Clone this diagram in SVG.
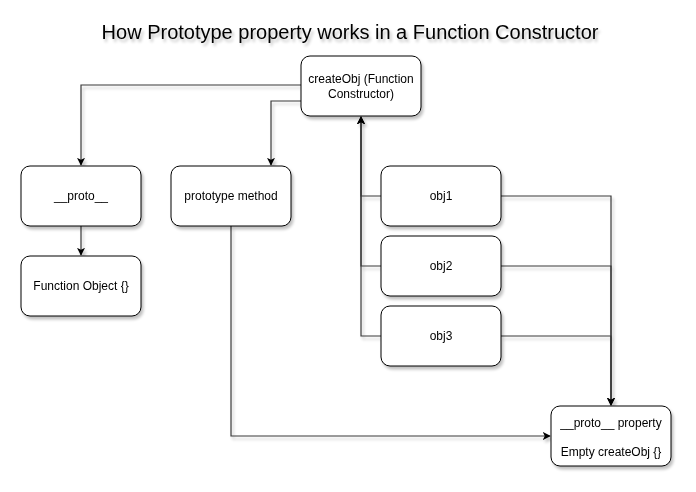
<svg xmlns="http://www.w3.org/2000/svg" width="696" height="492" viewBox="0 0 696 492">
<defs>
<filter id="sh" x="-10%" y="-10%" width="130%" height="140%">
<feGaussianBlur in="SourceAlpha" stdDeviation="1.5"/>
<feOffset dx="2" dy="3" result="o"/>
<feComponentTransfer><feFuncA type="linear" slope="0.25"/></feComponentTransfer>
<feMerge><feMergeNode/><feMergeNode in="SourceGraphic"/></feMerge>
</filter>
<marker id="ar" viewBox="0 0 10 10" refX="9" refY="5" markerWidth="8" markerHeight="8" markerUnits="userSpaceOnUse" orient="auto">
<path d="M0,0 L10,5 L0,10 L2.5,5 Z" fill="#000"/>
</marker>
<style>
.box{fill:#fff;stroke:#000;stroke-width:1}
.t{font-family:"Liberation Sans",Arial,sans-serif;font-size:12px;fill:#000;text-anchor:middle}
.c{fill:none;stroke:#3a3a3a;stroke-width:1.2}
</style>
</defs>
<rect width="696" height="492" fill="#fff"/>
<text x="350" y="39" filter="url(#sh)" style="font-family:'Liberation Sans',Arial,sans-serif;font-size:20px;text-anchor:middle;fill:#000">How Prototype property works in a Function Constructor</text>
<g id="connectors" filter="url(#sh)">
<path class="c" d="M301,85 H81 V165" marker-end="url(#ar)"/>
<path class="c" d="M301,101 H271 V165" marker-end="url(#ar)"/>
<path class="c" d="M81,226 V255" marker-end="url(#ar)"/>
<path class="c" d="M381,196 H361 V117" marker-end="url(#ar)"/>
<path class="c" d="M381,266 H361 V117" marker-end="url(#ar)"/>
<path class="c" d="M381,336 H361 V117" marker-end="url(#ar)"/>
<path class="c" d="M501,196 H611 V405" marker-end="url(#ar)"/>
<path class="c" d="M501,266 H611 V405" marker-end="url(#ar)"/>
<path class="c" d="M501,336 H611 V405" marker-end="url(#ar)"/>
<path class="c" d="M231,226 V436 H550" marker-end="url(#ar)"/>
</g>
<g id="createObj" filter="url(#sh)">
<rect class="box" x="301" y="56" width="120" height="60" rx="9"/>
<text class="t" x="361" y="83">createObj (Function</text>
<text class="t" x="361" y="98">Constructor)</text>
</g>
<g id="proto" filter="url(#sh)">
<rect class="box" x="21" y="166" width="120" height="60" rx="9"/>
<text class="t" x="81" y="200">__proto__</text>
</g>
<g id="functionObject" filter="url(#sh)">
<rect class="box" x="21" y="256" width="120" height="60" rx="9"/>
<text class="t" x="81" y="290">Function Object {}</text>
</g>
<g id="prototypeMethod" filter="url(#sh)">
<rect class="box" x="171" y="166" width="120" height="60" rx="9"/>
<text class="t" x="231" y="200">prototype method</text>
</g>
<g id="obj1" filter="url(#sh)">
<rect class="box" x="381" y="166" width="120" height="60" rx="9"/>
<text class="t" x="441" y="200">obj1</text>
</g>
<g id="obj2" filter="url(#sh)">
<rect class="box" x="381" y="236" width="120" height="60" rx="9"/>
<text class="t" x="441" y="270">obj2</text>
</g>
<g id="obj3" filter="url(#sh)">
<rect class="box" x="381" y="306" width="120" height="60" rx="9"/>
<text class="t" x="441" y="340">obj3</text>
</g>
<g id="protoProperty" filter="url(#sh)">
<rect class="box" x="551" y="406" width="120" height="60" rx="9"/>
<text class="t" x="611" y="427">__proto__ property</text>
<text class="t" x="611" y="456">Empty createObj {}</text>
</g>
</svg>
